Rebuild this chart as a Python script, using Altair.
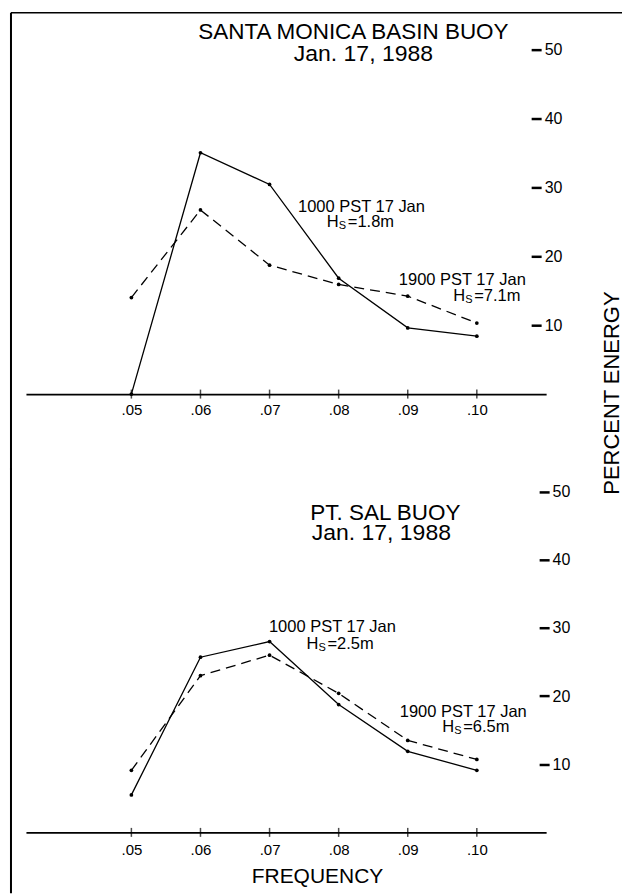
import altair as alt
import pandas as pd

# ---------------- data ----------------
freq = [0.05, 0.06, 0.07, 0.08, 0.09, 0.10]
sm_1000 = [0.0, 35.0, 30.4, 16.8, 9.6, 8.4]      # Santa Monica, 1000 PST (solid)
sm_1900 = [14.0, 26.7, 18.7, 15.9, 14.2, 10.3]   # Santa Monica, 1900 PST (dashed)
ps_1000 = [5.5, 25.7, 28.0, 18.75, 11.9, 9.1]    # Pt. Sal, 1000 PST (solid)
ps_1900 = [9.1, 23.0, 26.0, 20.4, 13.5, 10.7]    # Pt. Sal, 1900 PST (dashed)
y_ticks = [10, 20, 30, 40, 50]
x_ticks = [0.05, 0.06, 0.07, 0.08, 0.09, 0.10]
titles_sm = ["SANTA MONICA BASIN BUOY", "Jan. 17, 1988"]
titles_ps = ["PT. SAL BUOY", "Jan. 17, 1988"]
time_labels = ["1000 PST 17 Jan", "1900 PST 17 Jan"]
hs_sm = ["=1.8m", "=7.1m"]
hs_ps = ["=2.5m", "=6.5m"]
x_title = "FREQUENCY"
y_title = "PERCENT ENERGY"

FONT = "Liberation Sans"
X_DOMAIN = [0.03474, 0.11003]
W = 521
GAP = 76
one = pd.DataFrame({"k": [0]})


def hs(x, y, rest):
    base = alt.Chart(one)
    enc = dict(x=alt.datum(x), y=alt.datum(y))
    h = base.mark_text(text="H", align="left", baseline="middle", fontSize=16.5,
                       font=FONT, dx=-34, color="black").encode(**enc)
    s = base.mark_text(text="S", align="left", baseline="middle", fontSize=11,
                       font=FONT, dx=-22, dy=4, color="black").encode(**enc)
    r = base.mark_text(text=rest, align="left", baseline="middle", fontSize=16.5,
                       font=FONT, dx=-13, color="black").encode(**enc)
    return [h, s, r]


def label(text, x, y, size=16.5, baseline="middle"):
    return alt.Chart(one).mark_text(text=text, align="center", baseline=baseline,
                                    fontSize=size, font=FONT, color="black").encode(
        x=alt.datum(x), y=alt.datum(y))


def panel(solid, dashed, height, ydom, yoffset, xlabpad, titles, tpos, annots, extras):
    df_s = pd.DataFrame({"freq": freq, "pct": solid})
    df_d = pd.DataFrame({"freq": freq, "pct": dashed})
    x = alt.X("freq:Q", scale=alt.Scale(domain=X_DOMAIN, nice=False, zero=False),
              axis=alt.Axis(values=x_ticks, labelExpr="replace(format(datum.value, '.2f'), '0.', '.')",
                            ticks=False, domainColor="black", domainWidth=1.8, labelFont=FONT,
                            labelFontSize=15, labelColor="black", labelPadding=xlabpad,
                            title=None, grid=False, labelFlush=False))
    y = alt.Y("pct:Q", scale=alt.Scale(domain=ydom, nice=False, zero=False),
              axis=alt.Axis(orient="right", values=y_ticks, domain=False, tickSize=10,
                            tickWidth=2.5, tickColor="black", labelFont=FONT, labelFontSize=16,
                            labelColor="black", labelPadding=3, offset=yoffset, grid=False,
                            title=None, labelFlush=False))
    solid_line = alt.Chart(df_s).mark_line(color="black", strokeWidth=1.3).encode(x=x, y=y)
    dashed_line = alt.Chart(df_d).mark_line(color="black", strokeWidth=1.3,
                                            strokeDash=[10, 6]).encode(x="freq:Q", y="pct:Q")
    pts_s = alt.Chart(df_s).mark_point(filled=True, size=14, color="black", opacity=1).encode(
        x="freq:Q", y="pct:Q")
    pts_d = alt.Chart(df_d).mark_point(filled=True, size=14, color="black", opacity=1).encode(
        x="freq:Q", y="pct:Q")
    ticks = alt.Chart(pd.DataFrame({"freq": x_ticks})).mark_tick(
        orient="vertical", size=9, thickness=1.5, color="black").encode(
        x="freq:Q", y=alt.datum(ydom[0]))
    layers = [solid_line, dashed_line, pts_s, pts_d, ticks]
    layers.append(label(titles[0], tpos[0][0], tpos[0][1], 22.5, "alphabetic"))
    layers.append(label(titles[1], tpos[1][0], tpos[1][1], 23, "alphabetic"))
    for (txt, tx, ty), (rest, hx, hy) in annots:
        layers.append(label(txt, tx, ty, 16.5))
        layers += hs(hx, hy, rest)
    layers += extras
    return alt.layer(*layers).properties(width=W, height=height)


top_extras = [
    alt.Chart(one).mark_rule(color="black", strokeWidth=2).encode(
        x=alt.value(-15), y=alt.value(0), y2=alt.value(382 + GAP)),
    alt.Chart(one).mark_rule(color="black", strokeWidth=1.5).encode(
        x=alt.value(-15), x2=alt.value(597), y=alt.value(0)),
    alt.Chart(one).mark_text(text=y_title, angle=270, align="center", baseline="middle",
                             fontSize=22, font=FONT, color="black").encode(
        x=alt.value(587), y=alt.value(381)),
]
bot_extras = [
    alt.Chart(one).mark_rule(color="black", strokeWidth=2).encode(
        x=alt.value(-15), y=alt.value(-2), y2=alt.value(424)),
    alt.Chart(one).mark_text(text=x_title, align="center", baseline="middle",
                             fontSize=21, font=FONT, color="black").encode(
        x=alt.value(292), y=alt.value(408)),
]

top = panel(sm_1000, sm_1900, 382, [0, 55.31], -15, 8,
            titles_sm, [(0.08214, 51.55), (0.08358, 48.36)],
            [((time_labels[0], 0.08330, 27.2), (hs_sm[0], 0.0832, 24.9)),
             ((time_labels[1], 0.0979, 16.5), (hs_sm[1], 0.1015, 14.2))],
            top_extras)
bottom = panel(ps_1000, ps_1900, 363, [0, 53.18], -7, 10,
               titles_ps, [(0.08676, 45.85), (0.08618, 42.9)],
               [((time_labels[0], 0.0791, 30.2), (hs_ps[0], 0.08026, 27.7)),
                ((time_labels[1], 0.09803, 17.6), (hs_ps[1], 0.09991, 15.4))],
               bot_extras)

chart = alt.vconcat(top, bottom, spacing=GAP, bounds="flush").properties(
    padding={"left": 10, "top": 11, "right": 0, "bottom": 0},
    background="white",
).configure_view(stroke=None).configure_text(font=FONT)

chart.save("out.html", embed_options={"renderer": "svg", "actions": False})
